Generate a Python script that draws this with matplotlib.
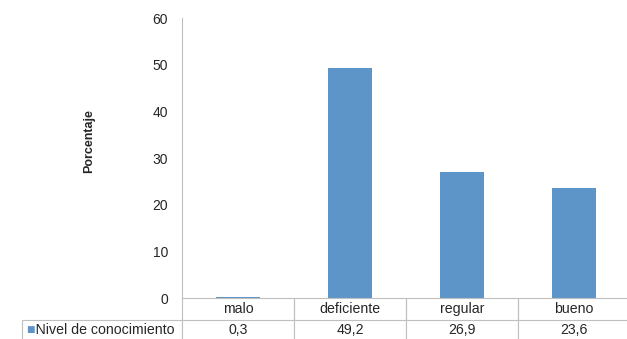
import matplotlib.pyplot as plt

plt.rcParams['font.family'] = ['Liberation Sans', 'DejaVu Sans']

CATEGORIES = ['malo', 'deficiente', 'regular', 'bueno']
VALUES = [0.3, 49.2, 26.9, 23.6]
VALUE_LABELS = ['0,3', '49,2', '26,9', '23,6']
SERIES_NAME = 'Nivel de conocimiento'
Y_TICKS = [0, 10, 20, 30, 40, 50, 60]

BAR_COLOR = '#5E95C9'
GRID_COLOR = '#BFBFBF'
TEXT_COLOR = '#262626'

W, H = 627, 339
fig = plt.figure(figsize=(W / 100, H / 100), dpi=100)
fig.patch.set_facecolor('white')

# plot area in pixels: x 182..630, y 18..298
x0, x1 = 182, 630
y_top, y_zero = 18, 298
ax = fig.add_axes([x0 / W, (H - y_zero) / H, (x1 - x0) / W, (y_zero - y_top) / H])

x = list(range(len(CATEGORIES)))
ax.bar(x, VALUES, width=0.4, color=BAR_COLOR)
ax.set_xlim(-0.5, len(CATEGORIES) - 0.5)
ax.set_ylim(0, 60)
ax.set_yticks(Y_TICKS)
ax.set_yticklabels([str(t) for t in Y_TICKS], fontsize=10, color=TEXT_COLOR)
ax.tick_params(axis='y', length=0, pad=10)
ax.set_xticks([])

for side in ['top', 'right']:
    ax.spines[side].set_visible(False)
ax.spines['left'].set_color(GRID_COLOR)
ax.spines['bottom'].set_color(GRID_COLOR)

ax.set_ylabel('Porcentaje', fontsize=9, fontweight='bold', color=TEXT_COLOR)
ax.yaxis.set_label_coords((95 - x0) / (x1 - x0), 0.56)

# data table under the chart
pw = x1 - x0
ph = y_zero - y_top
left_w = (x0 - 22) / pw
col_w = 1 / len(CATEGORIES)
table_h = (H - y_zero + 2) / ph
cell_text = [[''] + CATEGORIES, ['   ' + SERIES_NAME] + VALUE_LABELS]
tbl = ax.table(cellText=cell_text,
               colWidths=[left_w] + [col_w] * len(CATEGORIES),
               cellLoc='center',
               bbox=[-left_w, -table_h, 1 + left_w, table_h])
tbl.auto_set_font_size(False)
for (r, c), cell in tbl.get_celld().items():
    cell.set_edgecolor(GRID_COLOR)
    cell.set_linewidth(0.8)
    cell.get_text().set_fontsize(10.2)
    cell.get_text().set_color(TEXT_COLOR)
    if r == 0 and c == 0:
        cell.visible_edges = ''
    elif r == 0:
        cell.visible_edges = 'LR'
    if c == 0 and r == 1:
        cell.get_text().set_ha('left')
        cell.PAD = 0.015

# legend key square in the table row label
ax.text(-left_w + 0.01, -table_h * 0.74, '■', transform=ax.transAxes,
        color=BAR_COLOR, fontsize=6.5, va='center', ha='left',
        family=['DejaVu Sans'], clip_on=False)

fig.savefig('out.png', dpi=100)
